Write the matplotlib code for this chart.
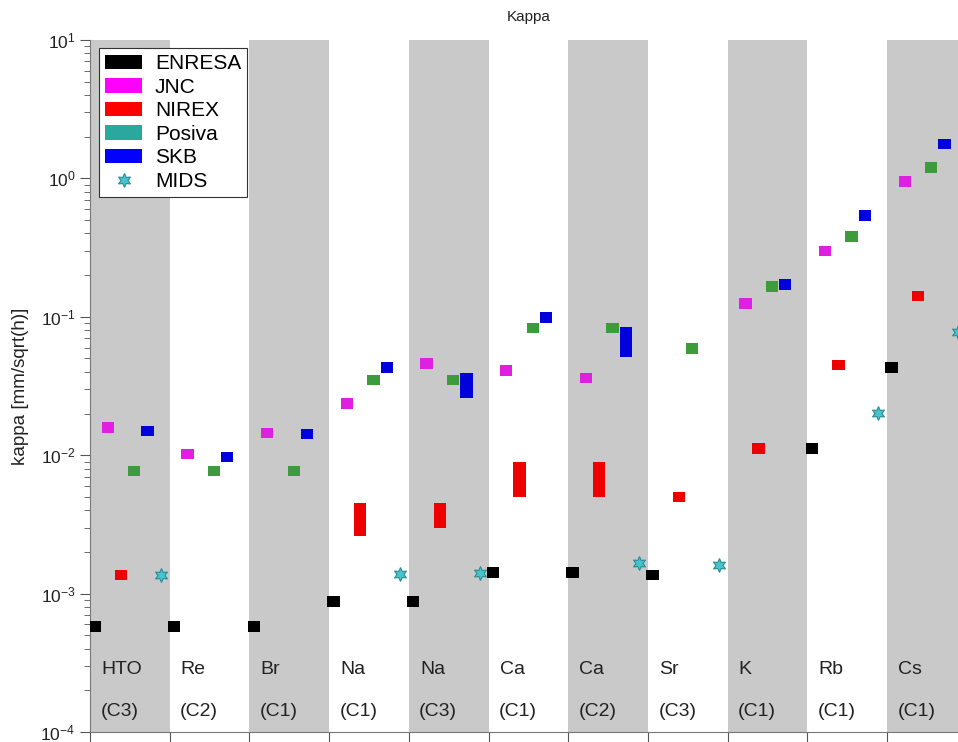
import numpy as np
import matplotlib
matplotlib.use("Agg")
import matplotlib.pyplot as plt
from matplotlib.patches import Patch
from matplotlib.lines import Line2D

plt.rcParams['font.family'] = ['Liberation Sans', 'DejaVu Sans']

nan = np.nan

# tracer / rock-class groups along the x axis
tracers = ['HTO', 'Re', 'Br', 'Na', 'Na', 'Ca', 'Ca', 'Sr', 'K', 'Rb', 'Cs']
rock_class = ['(C3)', '(C2)', '(C1)', '(C1)', '(C3)', '(C1)', '(C2)', '(C3)', '(C1)', '(C1)', '(C1)']

# kappa [mm/sqrt(h)] per organisation: (low, high); single values have low == high
enresa_lo = [5.8e-4, 5.8e-4, 5.8e-4, 8.8e-4, 8.8e-4, 1.42e-3, 1.42e-3, 1.36e-3, nan, 1.12e-2, 4.3e-2]
enresa_hi = enresa_lo
jnc_lo = [1.58e-2, 1.02e-2, 1.45e-2, 2.37e-2, 4.6e-2, 4.1e-2, 3.6e-2, nan, 0.125, 0.30, 0.95]
jnc_hi = jnc_lo
nirex_lo = [1.36e-3, nan, nan, 2.6e-3, 3.0e-3, 5.0e-3, 5.0e-3, 5.0e-3, 1.12e-2, 4.5e-2, 0.141]
nirex_hi = [1.36e-3, nan, nan, 4.5e-3, 4.5e-3, 9.0e-3, 9.0e-3, 5.0e-3, 1.12e-2, 4.5e-2, 0.141]
posiva_lo = [7.7e-3, 7.7e-3, 7.7e-3, 3.5e-2, 3.5e-2, 8.3e-2, 8.3e-2, 5.9e-2, 0.165, 0.38, 1.20]
posiva_hi = posiva_lo
skb_lo = [1.5e-2, 9.7e-3, 1.42e-2, 4.3e-2, 2.6e-2, 9.9e-2, 5.15e-2, nan, 0.171, 0.54, 1.77]
skb_hi = [1.5e-2, 9.7e-3, 1.42e-2, 4.3e-2, 3.9e-2, 9.9e-2, 8.5e-2, nan, 0.171, 0.54, 1.77]
mids = [1.36e-3, nan, nan, 1.38e-3, 1.42e-3, nan, 1.66e-3, 1.60e-3, nan, 2.03e-2, 7.8e-2]

orgs = ['ENRESA', 'JNC', 'NIREX', 'Posiva', 'SKB']
lows = [enresa_lo, jnc_lo, nirex_lo, posiva_lo, skb_lo]
highs = [enresa_hi, jnc_hi, nirex_hi, posiva_hi, skb_hi]
mark_colors = ['#000000', '#e020e0', '#ee0000', '#3c9c3c', '#0000dd']
legend_colors = ['#000000', '#ff00ff', '#ff0000', '#2aa89e', '#0000ff']
mids_face = '#45c4cc'
mids_edge = '#2a8c96'

fig = plt.figure(figsize=(9.58, 7.42), dpi=100)
ax = fig.add_axes([90 / 958, 10 / 742, 876.7 / 958, 692 / 742])

n = len(tracers)
x0 = np.arange(n)

# alternating grey bands
for i in range(0, n, 2):
    ax.axvspan(i, i + 1, color='#c9c9c9', lw=0, zorder=0)

w = 0.155
half = 10 ** 0.038  # minimum half-height of a box in log space
for k in range(len(orgs)):
    lo = np.array(lows[k], dtype=float)
    hi = np.array(highs[k], dtype=float)
    lo_d = np.minimum(lo, np.sqrt(lo * hi) / half)
    hi_d = np.maximum(hi, np.sqrt(lo * hi) * half)
    ax.bar(x0 + 0.056 + k / 6, hi_d - lo_d, bottom=lo_d, width=w,
           color=mark_colors[k], lw=0, zorder=3)

ax.plot(x0 + 0.056 + 5 / 6, mids, ls='none', marker=(6, 1, 0), ms=10,
        mfc=mids_face, mec=mids_edge, mew=0.8, zorder=4, clip_on=False)

for i in range(n):
    ax.text(i + 0.14, 0.0896, tracers[i], transform=ax.get_xaxis_transform(),
            fontsize=14, color='#222222', va='center', ha='left')
    ax.text(i + 0.13, 0.029, rock_class[i], transform=ax.get_xaxis_transform(),
            fontsize=14, color='#222222', va='center', ha='left')

ax.set_yscale('log')
ax.set_ylim(1e-4, 1e1)
ax.set_xlim(0, n)
ax.set_xticks(np.arange(n + 1))
ax.set_xticklabels([])
ax.tick_params(axis='both', which='both', direction='out', colors='#555555',
               labelcolor='#222222', labelsize=12.5)
ax.tick_params(axis='both', which='major', length=7)
ax.tick_params(axis='y', which='minor', length=4)
for s in ['top', 'right']:
    ax.spines[s].set_visible(False)
for s in ['left', 'bottom']:
    ax.spines[s].set_color('#777777')

ax.set_ylabel('kappa [mm/sqrt(h)]', fontsize=13.5, color='#222222', labelpad=8)
ax.set_title('Kappa', fontsize=11, color='#222222', pad=14)

handles = [Patch(facecolor=c, edgecolor='none') for c in legend_colors]
handles.append(Line2D([], [], ls='none', marker=(6, 1, 0), ms=10,
                      mfc=mids_face, mec=mids_edge, mew=0.8))
leg = ax.legend(handles, orgs + ['MIDS'], loc='upper left',
                bbox_to_anchor=(0.0103, 0.988), fontsize=15, frameon=True,
                fancybox=False, edgecolor='#333333', framealpha=1,
                borderaxespad=0, borderpad=0.28, handlelength=1.8,
                handleheight=0.7, handletextpad=0.6, labelspacing=0.22)
leg.get_frame().set_linewidth(0.8)
leg.set_zorder(5)

fig.savefig('out.png', dpi=100)
